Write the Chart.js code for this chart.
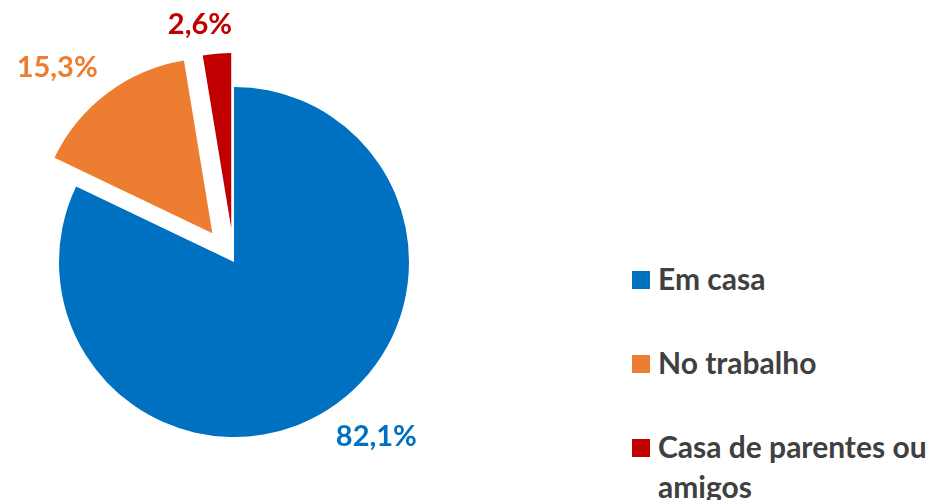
<!DOCTYPE html>
<html lang="pt">
<head>
<meta charset="utf-8">
<script src="https://cdn.jsdelivr.net/npm/chart.js@4"></script>
<style>
  html, body { margin: 0; padding: 0; background: #fff; }
  #wrap { position: relative; width: 928px; height: 500px; overflow: hidden; }
  #pie-box { position: absolute; left: 0; top: 0; width: 468px; height: 500px; }
  #legend { position: absolute; left: 632px; top: 258px; width: 300px;
            font-family: Lato, "Open Sans", sans-serif; font-weight: 700; font-size: 30px;
            color: #404040; line-height: 40px; }
  .item { display: flex; align-items: flex-start; margin-bottom: 44px; }
  .box { width: 18px; height: 18px; flex: none; margin-top: 13px; margin-right: 8px; }
</style>
</head>
<body>
<div id="wrap">
  <div id="pie-box"><canvas id="pie"></canvas></div>
  <div id="legend"></div>
</div>
<script>
// Onde acessa: shares in percent
const categories = ['Em casa', 'No trabalho', 'Casa de parentes ou amigos'];
const values = [82.1, 15.3, 2.6];
const colors = ['#0070C0', '#ED7D31', '#C00000'];
const explode = [0, 36, 34];

function fmt(v) {
    return v.toFixed(1).replace('.', ',') + '%';
}

// Build the legend next to the pie
const legend = document.getElementById('legend');
categories.forEach((name, i) => {
    const row = document.createElement('div');
    row.className = 'item';
    row.innerHTML = `<span class="box" style="background:${colors[i]}"></span><span>${name}</span>`;
    legend.appendChild(row);
});

// Pull slices out from the centre without growing them
// (the built-in offset also enlarges narrow slices)
const explodeSlices = {
    id: 'explodeSlices',
    afterDatasetsUpdate(chart) {
        chart.getDatasetMeta(0).data.forEach((arc, i) => {
            const mid = (arc.startAngle + arc.endAngle) / 2;
            arc.x += Math.cos(mid) * explode[i];
            arc.y += Math.sin(mid) * explode[i];
        });
    }
};

// Percent labels just outside each slice
const outsideLabels = {
    id: 'outsideLabels',
    afterDatasetsDraw(chart) {
        const ctx = chart.ctx;
        const meta = chart.getDatasetMeta(0);
        ctx.save();
        ctx.font = 'bold 29px Lato, "Open Sans", sans-serif';
        ctx.textAlign = 'center';
        ctx.textBaseline = 'middle';
        meta.data.forEach((arc, i) => {
            const text = fmt(values[i]);
            const mid = (arc.startAngle + arc.endAngle) / 2;
            const dx = Math.cos(mid), dy = Math.sin(mid);
            const r = arc.outerRadius + 16;
            const w = ctx.measureText(text).width;
            const sx = Math.max(-1, Math.min(1, dx * 6));
            const sy = Math.max(-1, Math.min(1, dy * 3));
            const x = arc.x + dx * r + sx * w / 2;
            const y = arc.y + dy * r + sy * 13;
            ctx.fillStyle = colors[i];
            ctx.fillText(text, x, y);
        });
        ctx.restore();
    }
};

const canvas = document.getElementById('pie');
new Chart(canvas, {
    type: 'pie',
    data: {
        labels: categories,
        datasets: [{
            data: values,
            backgroundColor: colors,
            borderWidth: 0
        }]
    },
    options: {
        responsive: true,
        maintainAspectRatio: false,
        animation: false,
        radius: 175,
        layout: { padding: { top: 24, bottom: 0, left: 0, right: 0 } },
        plugins: {
            legend: { display: false },
            tooltip: { enabled: false }
        }
    },
    plugins: [explodeSlices, outsideLabels]
});
</script>
</body>
</html>
